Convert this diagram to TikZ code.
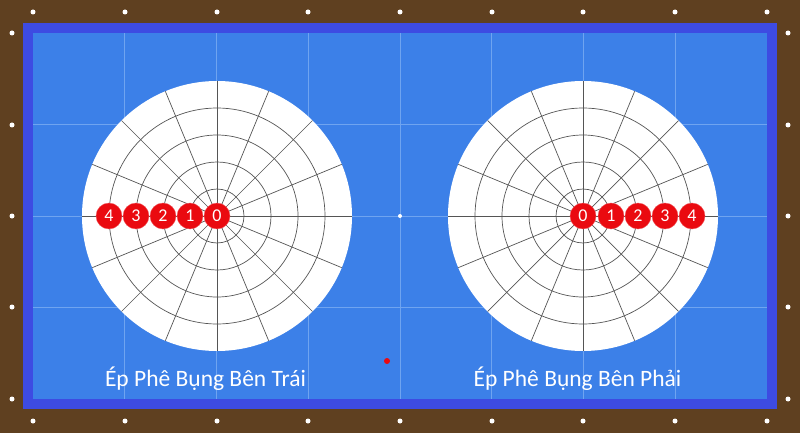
\documentclass[tikz,border=0pt]{standalone}
\usepackage{fontspec}
\setmainfont{Carlito}
\definecolor{rail}{HTML}{5F4020}
\definecolor{cushion}{HTML}{3D4BE2}
\definecolor{cloth}{HTML}{3C80E8}
\definecolor{gridc}{HTML}{6FA4F0}
\definecolor{ringc}{HTML}{555555}
\definecolor{ballred}{HTML}{EA0A10}
\tikzset{
  railDot/.style={circle,fill=white,inner sep=0pt,minimum size=5pt},
  ballnode/.style={circle,fill=ballred,draw=ballred!70!white,line width=0.4pt,inner sep=0pt,minimum size=26pt,text=white,font=\fontsize{18}{18}\selectfont},
  gridline/.style={draw=gridc,line width=0.8pt},
  ringline/.style={draw=ringc,line width=0.7pt},
  caption/.style={text=white,font=\fontsize{23.5}{23.5}\selectfont,anchor=base,inner sep=0pt}
}
\begin{document}
\begin{tikzpicture}[x=1pt,y=-1pt]
\useasboundingbox (0,0) rectangle (800,433);
\fill[rail] (0,0) rectangle (800,433);
\fill[cushion] (23,23) rectangle (777,409);
\fill[cloth] (33,33) rectangle (767,399);
% grid
\foreach \gx in {124.75,216.5,308.25,400,491.75,583.5,675.25} {\draw[gridline] (\gx,33) -- (\gx,399);}
\foreach \gy in {124.5,216,307.5} {\draw[gridline] (33,\gy) -- (767,\gy);}
% rail dots
\foreach \dx [count=\i] in {33,125,217,308,400,492,583,675,767} {
  \node[railDot] (top\i) at (\dx,12) {};
  \node[railDot] (bot\i) at (\dx,421) {};
}
\foreach \dy [count=\i] in {33,125,216,307,399} {
  \node[railDot] (lft\i) at (12,\dy) {};
  \node[railDot] (rgt\i) at (788,\dy) {};
}
% target circles
\foreach \cx/\nm in {217/L,583/R} {
  \fill[white] (\cx,216) circle[radius=135];
  \foreach \r in {27,54,81,108} {\draw[ringline] (\cx,216) circle[radius=\r];}
  \foreach \a in {0,22.5,...,337.5} {\draw[ringline] (\cx,216) -- ++(\a:135);}
}
\node[railDot,minimum size=4pt] (mid) at (400,216) {};
\node[circle,fill=ballred,inner sep=0pt,minimum size=6pt] (cue) at (387,361) {};
% balls left
\foreach \bx/\n in {109/4,136/3,163/2,190/1,217/0} {\node[ballnode] (L\n) at (\bx,216) {\n};}
% balls right
\foreach \bx/\n in {692/4,665/3,638/2,611/1,583/0} {\node[ballnode] (R\n) at (\bx,216) {\n};}
% captions
\node[caption] (capL) at (205.5,386) {Ép Phê Bụng Bên Trái};
\node[caption] (capR) at (577.5,386) {Ép Phê Bụng Bên Phải};
\end{tikzpicture}
\end{document}
